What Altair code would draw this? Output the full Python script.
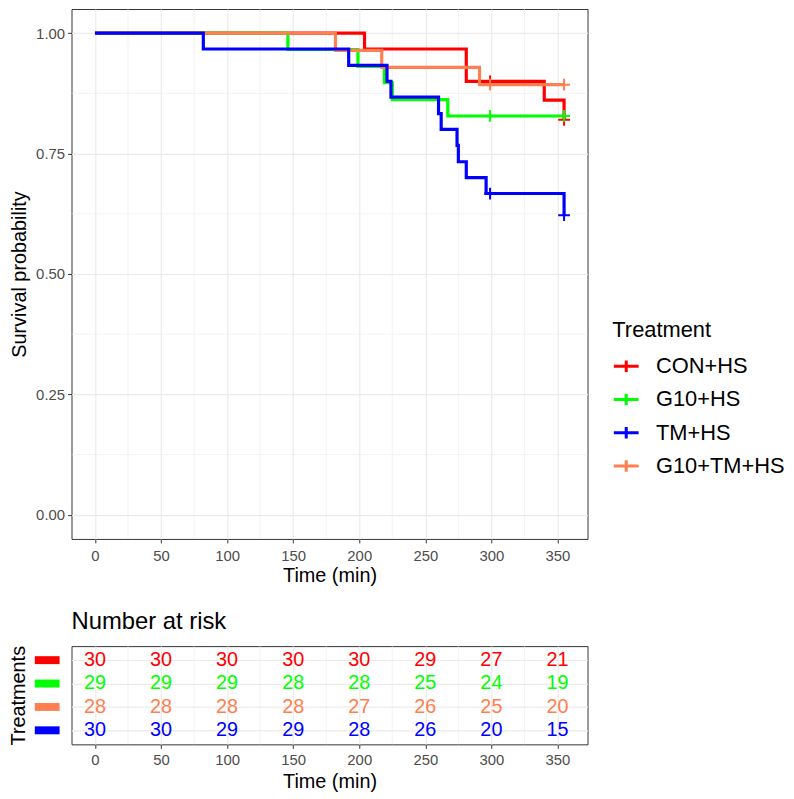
import altair as alt
import pandas as pd

FONT = "Liberation Sans"

# ---- legend / colour order ----
series_legend = ["CON+HS", "G10+HS", "TM+HS", "G10+TM+HS"]
series_colors = ["#FF0000", "#00FF00", "#0000FF", "#FF7F50"]
draw_order = ["CON+HS", "G10+HS", "G10+TM+HS", "TM+HS"]   # table rows / drawing order

# ---- Kaplan-Meier step curves ----
red_t = [0, 204, 281, 340, 355]
red_s = [1.0, 0.967, 0.900, 0.861, 0.820]
green_t = [0, 146, 199, 219, 225, 267, 355]
green_s = [1.0, 0.966, 0.931, 0.897, 0.862, 0.828, 0.828]
orange_t = [0, 182, 217, 291, 355]
orange_s = [1.0, 0.964, 0.929, 0.893, 0.893]
blue_t = [0, 82, 192, 221, 224, 260, 262, 274, 275, 281, 296, 355]
blue_s = [1.0, 0.967, 0.933, 0.900, 0.867, 0.833, 0.800, 0.767, 0.733, 0.700, 0.667, 0.622]

# ---- censor marks ----
red_ct = [299, 355]
red_cs = [0.900, 0.820]
green_ct = [299, 355]
green_cs = [0.828, 0.828]
orange_ct = [299, 355]
orange_cs = [0.893, 0.893]
blue_ct = [299, 355]
blue_cs = [0.667, 0.622]

# ---- number at risk ----
risk_times = [0, 50, 100, 150, 200, 250, 300, 350]
risk_red = [30, 30, 30, 30, 30, 29, 27, 21]
risk_green = [29, 29, 29, 28, 28, 25, 24, 19]
risk_orange = [28, 28, 28, 28, 27, 26, 25, 20]
risk_blue = [30, 30, 29, 29, 28, 26, 20, 15]

# ---- axes ----
x_ticks = [0, 50, 100, 150, 200, 250, 300, 350]
x_minor = [25, 75, 125, 175, 225, 275, 325]
y_ticks = [0.0, 0.25, 0.5, 0.75, 1.0]
y_minor = [0.125, 0.375, 0.625, 0.875]
x_domain = [-17.75, 372.75]
y_domain = [-0.05, 1.05]

curves = {
    "CON+HS": (red_t, red_s, red_ct, red_cs, risk_red),
    "G10+HS": (green_t, green_s, green_ct, green_cs, risk_green),
    "G10+TM+HS": (orange_t, orange_s, orange_ct, orange_cs, risk_orange),
    "TM+HS": (blue_t, blue_s, blue_ct, blue_cs, risk_blue),
}

line_rows, cens_rows, risk_rows = [], [], []
for name in draw_order:
    t, s, ct, cs, rk = curves[name]
    for a, b in zip(t, s):
        line_rows.append({"series": name, "time": a, "surv": b})
    for a, b in zip(ct, cs):
        cens_rows.append({"series": name, "time": a, "surv": b})
    for a, b in zip(risk_times, rk):
        risk_rows.append({"series": name, "time": a, "n": b})

lines_df = pd.DataFrame(line_rows)
cens_df = pd.DataFrame(cens_rows)
risk_df = pd.DataFrame(risk_rows)
xminor_df = pd.DataFrame({"v": x_minor})
yminor_df = pd.DataFrame({"v": y_minor})
sw_df = pd.DataFrame({"series": draw_order})

xs = alt.Scale(domain=x_domain, nice=False, zero=False)
ys = alt.Scale(domain=y_domain, nice=False, zero=False)
cscale = alt.Scale(domain=series_legend, range=series_colors)

legend = alt.Legend(
    title="Treatment", orient="none", legendX=545, legendY=314,
    titleFontSize=22, labelFontSize=22, titleFont=FONT, labelFont=FONT,
    titleFontWeight="normal", titleColor="black", labelColor="black",
    symbolType="M-1,0H1M0,-0.47V0.47", symbolSize=625, symbolStrokeWidth=3,
    symbolFillColor="transparent", rowPadding=7.5, titlePadding=10, labelOffset=16,
    values=series_legend,
)

x_axis = alt.Axis(values=x_ticks, title="Time (min)", labelPadding=6, titlePadding=2)
y_axis = alt.Axis(values=y_ticks, format=".2f", title="Survival probability", labelPadding=3, titlePadding=6)

minor_x = alt.Chart(xminor_df).mark_rule(color="#EBEBEB", strokeWidth=0.6).encode(
    x=alt.X("v:Q", scale=xs, axis=x_axis))
minor_y = alt.Chart(yminor_df).mark_rule(color="#EBEBEB", strokeWidth=0.6).encode(
    y=alt.Y("v:Q", scale=ys, axis=y_axis))

layers = [minor_x, minor_y]
for name in draw_order:
    layers.append(
        alt.Chart(lines_df).transform_filter(alt.datum.series == name)
        .mark_line(interpolate="step-after", strokeWidth=3.2)
        .encode(
            x=alt.X("time:Q", scale=xs, axis=x_axis),
            y=alt.Y("surv:Q", scale=ys, axis=y_axis),
            color=alt.Color("series:N", scale=cscale, legend=legend),
        )
    )
layers.append(
    alt.Chart(cens_df).mark_point(shape="M-1,0H1M0,-1V1", size=140, strokeWidth=2, filled=False, opacity=1)
    .encode(
        x=alt.X("time:Q", scale=xs, axis=x_axis),
        y=alt.Y("surv:Q", scale=ys, axis=y_axis),
        color=alt.Color("series:N", scale=cscale, legend=legend),
    )
)
top = alt.layer(*layers).properties(width=520, height=534)

# ---- risk table ----
ry = alt.Scale(type="point", padding=0.6, domain=draw_order)
ry_axis = alt.Axis(labels=False, ticks=False, title="Treatments", titlePadding=43, grid=True)
rx_axis = alt.Axis(values=x_ticks, title="Time (min)", labelPadding=4, titlePadding=4)

t_minor = alt.Chart(xminor_df).mark_rule(color="#EBEBEB", strokeWidth=0.6).encode(
    x=alt.X("v:Q", scale=xs, axis=rx_axis))
t_sw = alt.Chart(sw_df).mark_rule(strokeWidth=8).encode(
    x=alt.value(-37), x2=alt.value(-12),
    y=alt.Y("series:N", scale=ry, axis=ry_axis),
    color=alt.Color("series:N", scale=cscale, legend=None),
)
t_text = alt.Chart(risk_df).mark_text(fontSize=20, font=FONT, baseline="middle").encode(
    x=alt.X("time:Q", scale=xs, axis=rx_axis),
    y=alt.Y("series:N", scale=ry, axis=ry_axis),
    text=alt.Text("n:Q"),
    color=alt.Color("series:N", scale=cscale, legend=None),
)
bottom = alt.layer(t_minor, t_sw, t_text).properties(
    width=520, height=99,
    title=alt.TitleParams("Number at risk", anchor="start", frame="group", fontSize=24, font=FONT,
                          fontWeight="normal", color="black", offset=12),
)

chart = alt.vconcat(top, bottom, spacing=22).resolve_scale(color="independent").properties(
    padding={"left": 0, "top": -3, "right": 0, "bottom": 0}
).configure_axis(
    labelFont=FONT, titleFont=FONT, labelFontSize=15, titleFontSize=20,
    labelColor="#4D4D4D", titleColor="black", titleFontWeight="normal",
    tickColor="#333333", tickSize=4, tickWidth=1, domain=False,
    gridColor="#EBEBEB", gridWidth=1.2,
).configure_view(stroke="#333333", strokeWidth=1)

chart.save("out.html", embed_options={"renderer": "svg", "actions": False})
